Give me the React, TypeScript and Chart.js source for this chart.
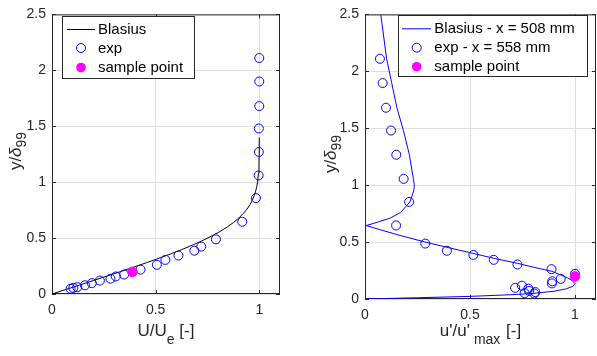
import React, { useEffect, useRef } from "react";
import { Chart, registerables } from "chart.js";

Chart.register(...registerables);

const FONT = '"Liberation Sans", Arial, Helvetica, sans-serif';
const AXIS_COLOR = "#262626";
const GRID_COLOR = "#dfdfdf";

// ---------- shared axes ----------
const xTicks = [0, 0.5, 1];
const yTicks = [0, 0.5, 1, 1.5, 2, 2.5];
const xMax = 1.1;
const yMax = 2.5;

// ---------- left panel: mean velocity ----------
const blasiusY = [0, 0.04, 0.08, 0.12, 0.16, 0.2, 0.24, 0.28, 0.32, 0.36, 0.4, 0.44, 0.48, 0.52, 0.56, 0.6, 0.64, 0.68, 0.72, 0.76, 0.8, 0.84, 0.88, 0.92, 0.96, 1.0, 1.08, 1.16, 1.24, 1.32, 1.4];
const blasiusU = [0, 0.0664, 0.1328, 0.1989, 0.2647, 0.3298, 0.3938, 0.4563, 0.5168, 0.5748, 0.6298, 0.6813, 0.729, 0.7725, 0.8115, 0.8461, 0.8761, 0.9018, 0.9233, 0.9411, 0.9555, 0.967, 0.9759, 0.9827, 0.9878, 0.9916, 0.9962, 0.9984, 0.9994, 0.9998, 0.9999];

const expU = [1.0, 1.0, 1.0, 0.998, 0.998, 0.997, 0.984, 0.918, 0.791, 0.72, 0.687, 0.61, 0.547, 0.506, 0.427, 0.348, 0.308, 0.282, 0.231, 0.192, 0.159, 0.122, 0.103, 0.09];
const expY = [2.11, 1.9, 1.68, 1.48, 1.27, 1.06, 0.857, 0.646, 0.489, 0.424, 0.387, 0.344, 0.305, 0.261, 0.218, 0.174, 0.157, 0.137, 0.12, 0.097, 0.078, 0.061, 0.055, 0.047];

const sampleU = [0.388];
const sampleY = [0.198];

// ---------- right panel: fluctuation amplitude ----------
const tsU = [0, 0.25, 0.5, 0.7, 0.8, 0.9, 0.96, 0.99, 1.0, 0.985, 0.96, 0.89, 0.8, 0.727, 0.62, 0.516, 0.4, 0.287, 0.151, 0.07, 0.005, 0.06, 0.119, 0.17, 0.214, 0.232, 0.235, 0.23, 0.211, 0.183, 0.152, 0.127, 0.103, 0.075];
const tsY = [0, 0.011, 0.023, 0.038, 0.049, 0.068, 0.09, 0.112, 0.135, 0.165, 0.19, 0.243, 0.28, 0.313, 0.355, 0.4, 0.45, 0.5, 0.566, 0.61, 0.645, 0.675, 0.71, 0.76, 0.853, 0.95, 1.0, 1.06, 1.27, 1.48, 1.68, 1.9, 2.11, 2.5];

const expRmsU = [0.071, 0.084, 0.1, 0.124, 0.149, 0.184, 0.21, 0.148, 0.287, 0.39, 0.516, 0.613, 0.726, 0.888, 1.0, 0.932, 0.892, 0.89, 0.747, 0.715, 0.778, 0.782, 0.811, 0.76, 0.806];
const expRmsY = [2.11, 1.897, 1.68, 1.48, 1.267, 1.055, 0.853, 0.646, 0.487, 0.424, 0.387, 0.344, 0.303, 0.262, 0.221, 0.177, 0.156, 0.137, 0.117, 0.098, 0.091, 0.071, 0.061, 0.052, 0.048];

const sampleRmsU = [1.0];
const sampleRmsY = [0.198];

const leftLegendLabels = ["Blasius", "exp", "sample point"];
const rightLegendLabels = ["Blasius - x = 508 mm", "exp - x = 558 mm", "sample point"];

// ---------- helpers ----------
type Part = { t: string; sub?: boolean; italic?: boolean; gap?: number };
type Kind = "line" | "circle" | "dot";

const zip = (xs: number[], ys: number[]) => xs.map((x, i) => ({ x, y: ys[i] }));

function partFont(p: Part, main: number, sub: number) {
  return `${p.italic ? "italic " : ""}${p.sub ? sub : main}px ${FONT}`;
}

function drawParts(ctx: CanvasRenderingContext2D, parts: Part[], cx: number, baseline: number, drop: number) {
  const main = 17, sub = 14;
  let total = 0;
  const widths = parts.map((p) => {
    ctx.font = partFont(p, main, sub);
    const w = ctx.measureText(p.t).width + (p.gap || 0);
    total += w;
    return w;
  });
  let x = cx - total / 2;
  ctx.textAlign = "left";
  ctx.textBaseline = "alphabetic";
  ctx.fillStyle = AXIS_COLOR;
  parts.forEach((p, i) => {
    ctx.font = partFont(p, main, sub);
    ctx.fillText(p.t, x + (p.gap || 0), baseline + (p.sub ? drop : 0));
    x += widths[i];
  });
}

interface PanelSpec {
  width: number;
  left: number;
  padTop: number;
  padRight: number;
  yAxisWidth: number;
  xAxisHeight: number;
  datasets: any[];
  xTitle: Part[];
  xTitleBase: number;
  yTitle: Part[];
  yTitleBaseX: number;
  yTitleCenterY: number;
  legend: { x: number; y: number; w: number; h: number; lineX0: number; lineX1: number; markX: number; textX: number; rows: number[]; labels: string[]; kinds: Kind[]; colors: string[] };
}

function overlay(spec: PanelSpec) {
  return {
    id: "matlabOverlay",
    beforeDatasetsDraw(chart: any) {
      const { ctx, chartArea: a } = chart;
      const xs = chart.scales.x;
      const ys = chart.scales.y;
      ctx.save();
      ctx.strokeStyle = AXIS_COLOR;
      ctx.lineWidth = 1;
      ctx.strokeRect(a.left + 0.5, a.top + 0.5, a.right - a.left - 1, a.bottom - a.top - 1);
      ctx.beginPath();
      xTicks.forEach((v) => {
        const px = Math.round(xs.getPixelForValue(v)) + 0.5;
        ctx.moveTo(px, a.bottom);
        ctx.lineTo(px, a.bottom - 4);
        ctx.moveTo(px, a.top);
        ctx.lineTo(px, a.top + 4);
      });
      yTicks.forEach((v) => {
        const py = Math.round(ys.getPixelForValue(v)) + 0.5;
        ctx.moveTo(a.left, py);
        ctx.lineTo(a.left + 4, py);
        ctx.moveTo(a.right, py);
        ctx.lineTo(a.right - 4, py);
      });
      ctx.stroke();
      ctx.restore();
    },
    afterDraw(chart: any) {
      const { ctx, chartArea: a } = chart;
      ctx.save();
      // x title
      drawParts(ctx, spec.xTitle, (a.left + a.right) / 2, spec.xTitleBase, 8);
      // y title (rotated)
      ctx.save();
      ctx.translate(spec.yTitleBaseX, spec.yTitleCenterY);
      ctx.rotate(-Math.PI / 2);
      drawParts(ctx, spec.yTitle, 0, 0, 5);
      ctx.restore();
      // legend
      const L = spec.legend;
      ctx.fillStyle = "#ffffff";
      ctx.fillRect(L.x, L.y, L.w, L.h);
      ctx.strokeStyle = AXIS_COLOR;
      ctx.lineWidth = 1;
      ctx.strokeRect(L.x + 0.5, L.y + 0.5, L.w, L.h);
      L.rows.forEach((ry, i) => {
        const kind = L.kinds[i];
        const col = L.colors[i];
        if (kind === "line") {
          ctx.strokeStyle = col;
          ctx.lineWidth = 1;
          ctx.beginPath();
          ctx.moveTo(L.lineX0, ry + 0.5);
          ctx.lineTo(L.lineX1, ry + 0.5);
          ctx.stroke();
        } else if (kind === "circle") {
          ctx.strokeStyle = col;
          ctx.lineWidth = 1;
          ctx.beginPath();
          ctx.arc(L.markX, ry, 4.5, 0, Math.PI * 2);
          ctx.stroke();
        } else {
          ctx.fillStyle = col;
          ctx.beginPath();
          ctx.arc(L.markX, ry, 4.8, 0, Math.PI * 2);
          ctx.fill();
        }
        ctx.fillStyle = "#000000";
        ctx.font = `15px ${FONT}`;
        ctx.textAlign = "left";
        ctx.textBaseline = "middle";
        ctx.fillText(L.labels[i], L.textX, ry + 0.5);
      });
      ctx.restore();
    },
  };
}

function buildConfig(spec: PanelSpec): any {
  const tickFont = { family: FONT, size: 14 };
  return {
    type: "scatter",
    data: { datasets: spec.datasets },
    options: {
      responsive: false,
      maintainAspectRatio: false,
      animation: false,
      events: [],
      layout: { autoPadding: false, padding: { left: 0, top: spec.padTop, right: spec.padRight, bottom: 0 } },
      plugins: { legend: { display: false }, tooltip: { enabled: false }, title: { display: false } },
      scales: {
        x: {
          type: "linear",
          min: 0,
          max: xMax,
          afterBuildTicks: (s: any) => {
            s.ticks = xTicks.map((v) => ({ value: v }));
          },
          afterFit: (s: any) => {
            s.height = spec.xAxisHeight;
          },
          ticks: { font: tickFont, color: AXIS_COLOR, padding: 8, maxRotation: 0, callback: (v: any) => String(+v) },
          grid: { color: GRID_COLOR, lineWidth: 1, drawTicks: false },
          border: { display: false },
        },
        y: {
          type: "linear",
          min: 0,
          max: yMax,
          afterBuildTicks: (s: any) => {
            s.ticks = yTicks.map((v) => ({ value: v }));
          },
          afterFit: (s: any) => {
            s.width = spec.yAxisWidth;
          },
          ticks: { font: tickFont, color: AXIS_COLOR, padding: 6, callback: (v: any) => String(+v) },
          grid: { color: GRID_COLOR, lineWidth: 1, drawTicks: false },
          border: { display: false },
        },
      },
    },
    plugins: [overlay(spec)],
  };
}

function markerSets(curveX: number[], curveY: number[], curveColor: string, ex: number[], ey: number[], sx: number[], sy: number[]) {
  return [
    {
      label: "sample",
      data: zip(sx, sy),
      order: 0,
      pointRadius: 4.8,
      pointBorderWidth: 1,
      pointBackgroundColor: "#ff00ff",
      pointBorderColor: "#ff00ff",
      showLine: false,
    },
    {
      label: "exp",
      data: zip(ex, ey),
      order: 1,
      pointRadius: 4.5,
      pointBorderWidth: 1,
      pointBackgroundColor: "rgba(0,0,0,0)",
      pointBorderColor: "#0000ff",
      showLine: false,
    },
    {
      label: "curve",
      data: zip(curveX, curveY),
      order: 2,
      showLine: true,
      pointRadius: 0,
      borderColor: curveColor,
      borderWidth: 1,
      tension: 0,
      fill: false,
    },
  ];
}

const leftSpec: PanelSpec = {
  width: 300,
  left: 0,
  padTop: 4,
  padRight: 20,
  yAxisWidth: 52,
  xAxisHeight: 62,
  datasets: markerSets(blasiusU, blasiusY, "#000000", expU, expY, sampleU, sampleY),
  xTitle: [{ t: "U/U" }, { t: "e", sub: true }, { t: " [-]" }],
  xTitleBase: 336,
  yTitle: [{ t: "y/" }, { t: "δ", italic: true }, { t: "99", sub: true }],
  yTitleBaseX: 20.5,
  yTitleCenterY: 151,
  legend: {
    x: 62, y: 16, w: 132, h: 62,
    lineX0: 67, lineX1: 95, markX: 81, textX: 98,
    rows: [29, 48, 67.5],
    labels: leftLegendLabels,
    kinds: ["line", "circle", "dot"],
    colors: ["#000000", "#0000ff", "#ff00ff"],
  },
};

const rightSpec: PanelSpec = {
  width: 297,
  left: 300,
  padTop: 9,
  padRight: 1,
  yAxisWidth: 65,
  xAxisHeight: 57,
  datasets: markerSets(tsU, tsY, "#0000ff", expRmsU, expRmsY, sampleRmsU, sampleRmsY),
  xTitle: [{ t: "u'/u'" }, { t: "max", sub: true, gap: 4 }, { t: " [-]", gap: 1 }],
  xTitleBase: 335.5,
  yTitle: [{ t: "y/" }, { t: "δ", italic: true }, { t: "99", sub: true }],
  yTitleBaseX: 36,
  yTitleCenterY: 154,
  legend: {
    x: 98, y: 15, w: 189, h: 61,
    lineX0: 102, lineX1: 131, markX: 116.7, textX: 134.3,
    rows: [28.3, 47.7, 66.7],
    labels: rightLegendLabels,
    kinds: ["line", "circle", "dot"],
    colors: ["#0000ff", "#0000ff", "#ff00ff"],
  },
};

function Panel({ spec }: { spec: PanelSpec }) {
  const ref = useRef<HTMLCanvasElement>(null);
  useEffect(() => {
    if (!ref.current) return;
    const chart = new Chart(ref.current, buildConfig(spec));
    return () => chart.destroy();
  }, [spec]);
  return (
    <canvas
      ref={ref}
      width={spec.width}
      height={356}
      style={{ position: "absolute", left: spec.left, top: 0, width: spec.width, height: 356 }}
    />
  );
}

export default function App() {
  return (
    <div style={{ position: "absolute", left: 0, top: 0, width: 597, height: 356, background: "#ffffff", overflow: "hidden" }}>
      <Panel spec={leftSpec} />
      <Panel spec={rightSpec} />
    </div>
  );
}
